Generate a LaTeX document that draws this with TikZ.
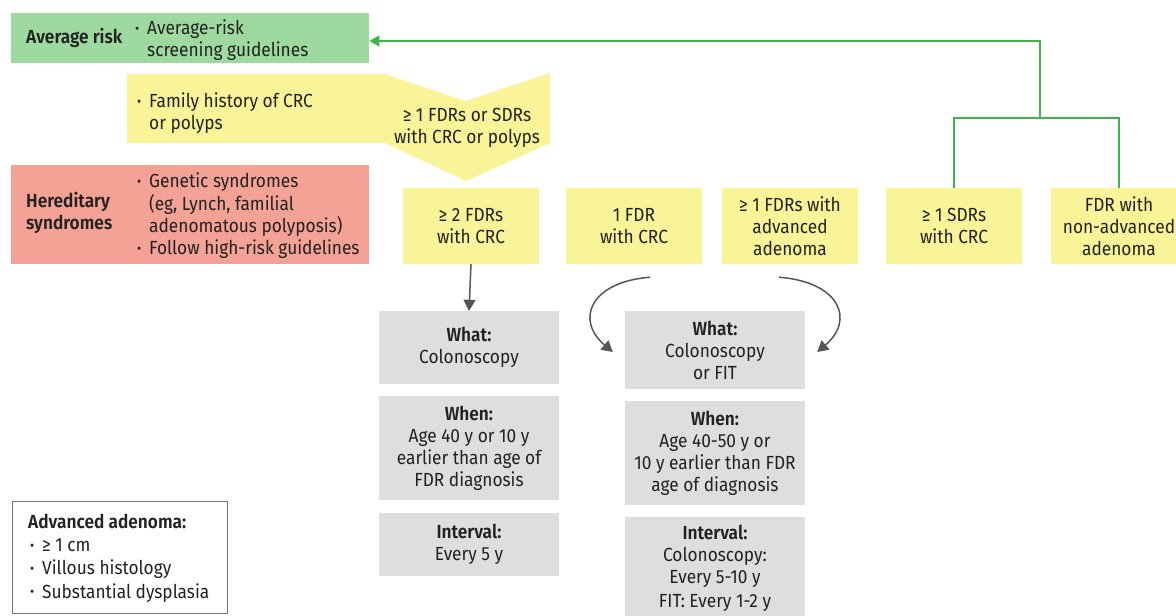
\documentclass[tikz,border=0pt]{standalone}
\usepackage{fontspec}
\setmainfont{Fira Sans}[FakeStretch=0.91, BoldFont={Fira Sans SemiBold}]
\usetikzlibrary{arrows.meta,calc}
\definecolor{avggreen}{HTML}{9ED9A0}
\definecolor{yel}{HTML}{F8F497}
\definecolor{salm}{HTML}{F4A296}
\definecolor{gry}{HTML}{DEDEDE}
\definecolor{gline}{HTML}{3DB54A}
\definecolor{darkl}{HTML}{555555}
\definecolor{txt}{HTML}{222222}
\definecolor{lgbord}{HTML}{777777}
\newcommand\bul{\makebox[12pt][l]{\raisebox{0.12ex}{\fontsize{14}{14}\selectfont\textbullet}}}
\newcommand\ind{\hspace*{12pt}}
\begin{document}
\begin{tikzpicture}[x=1pt,y=-1pt,
  every node/.style={font=\fontsize{19}{22}\selectfont, text=txt, inner sep=0pt},
  fb/.style={font=\fontsize{19}{22}\selectfont\bfseries},
  yb/.style={fill=yel, minimum width=136pt, minimum height=76pt, align=center},
  gb/.style={fill=gry, minimum width=180pt, align=center},
  gl/.style={draw=gline, line width=1.6pt},
  garr/.style={draw=darkl, line width=1.5pt, -{Triangle[length=11pt,width=12pt]}},
]
\useasboundingbox (0,0) rectangle (1176,616);

% average risk
\node[fill=avggreen, minimum width=358pt, minimum height=50pt, anchor=north west] (avg) at (11,13) {};
\node[fb, anchor=west] (avgt) at (26,38) {Average risk};
\node[anchor=west, align=left] (avgb) at (135,40.5) {\bul Average-risk\\\ind screening guidelines};

% family history banner
\path[fill=yel] (127,74) -- (385,74) -- (466,101) -- (550,73) -- (550,143) -- (466,181) -- (385,143) -- (127,143) -- cycle;
\node[anchor=west, align=left] (famb) at (137,113.5) {\bul Family history of CRC\\\ind or polyps};
\node[align=center] (famt) at (467,127.5) {≥ 1 FDRs or SDRs\\with CRC or polyps};

% hereditary
\node[fill=salm, minimum width=358pt, minimum height=99pt, anchor=north west] (her) at (11,165) {};
\node[fb, anchor=west, align=left] (hert) at (26,212.5) {Hereditary\\syndromes};
\node[anchor=west, align=left, font=\fontsize{19}{22.3}\selectfont] (herb) at (137,216) {\bul Genetic syndromes\\\ind (eg, Lynch, familial\\\ind adenomatous polyposis)\\\bul Follow high-risk guidelines};

% yellow boxes
\node[yb] (A) at (471,226) {≥ 2 FDRs\\with CRC};
\node[yb] (B) at (634,226) {1 FDR\\with CRC};
\node[yb] (C) at (790,226) {≥ 1 FDRs with\\advanced\\adenoma};
\node[yb] (D) at (954,226) {≥ 1 SDRs\\with CRC};
\node[yb] (E) at (1119,226) {FDR with\\non-advanced\\adenoma};

% green connector
\coordinate (j) at (1040,118);
\coordinate (top) at (1040,41);
\draw[gl] (D.north) |- (j);
\draw[gl] (E.north) |- (j);
\draw[gl, -{Triangle[length=10pt,width=11pt]}] (j) -- (top) -- (avg.east |- top);

% gray boxes left
\node[gb, minimum height=73pt] (W1) at (469,347.5) {\textbf{What:}\\Colonoscopy};
\node[gb, minimum height=104pt] (N1) at (469,448) {\textbf{When:}\\Age 40 y or 10 y\\earlier than age of\\FDR diagnosis};
\node[gb, minimum height=63pt] (I1) at (469,544.5) {\textbf{Interval:}\\Every 5 y};

% gray boxes right
\node[gb, minimum height=78pt] (W2) at (715,350) {\textbf{What:}\\Colonoscopy\\or FIT};
\node[gb, minimum height=104pt] (N2) at (715,453) {\textbf{When:}\\Age 40-50 y or\\10 y earlier than FDR\\age of diagnosis};
\node[gb, minimum height=103pt] (I2) at (715,568.5) {\textbf{Interval:}\\Colonoscopy:\\Every 5-10 y\\[2pt]FIT: Every 1-2 y};

% arrows
\draw[garr] (A.south) -- (W1.north);
\coordinate (ls) at ($(B.south)+(16,13)$);
\coordinate (le) at ($(W2.west)+(-12,2)$);
\coordinate (rs) at ($(C.south)+(-11,13)$);
\coordinate (re) at ($(W2.east)+(12,2)$);
\draw[garr] (ls) .. controls (590,282) and (575,320) .. (le);
\draw[garr] (rs) .. controls (840,282) and (855,320) .. (re);

% legend
\node[draw=lgbord, line width=1pt, minimum width=215pt, minimum height=112pt, anchor=north west] (leg) at (12,501) {};
\node[anchor=west, align=left, font=\fontsize{19}{23.3}\selectfont] (legt) at (28,558) {\textbf{Advanced adenoma:}\\\hspace*{2pt}\bul ≥ 1 cm\\\hspace*{2pt}\bul Villous histology\\\hspace*{2pt}\bul Substantial dysplasia};
\end{tikzpicture}
\end{document}
